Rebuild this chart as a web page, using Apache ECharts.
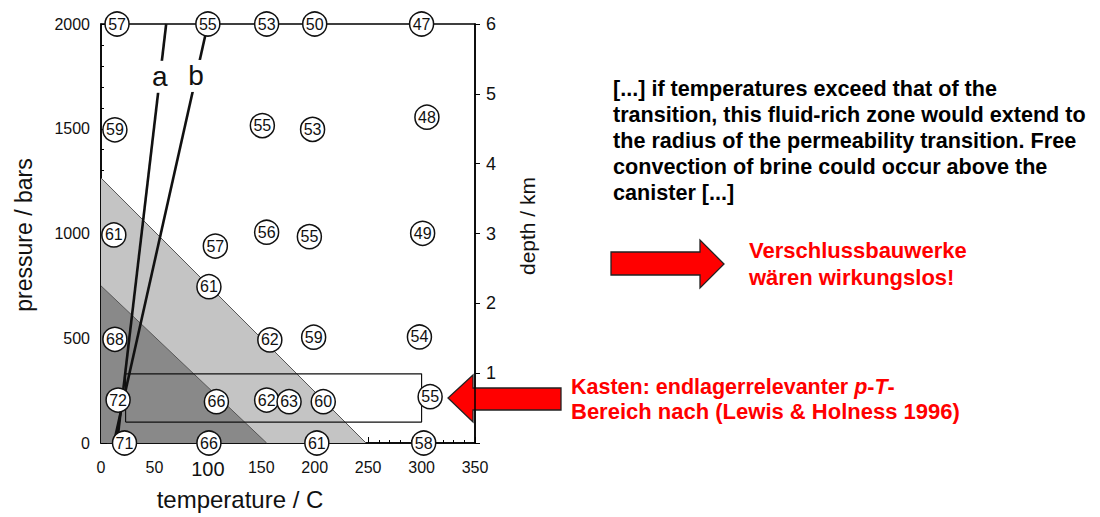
<!DOCTYPE html>
<html>
<head>
<meta charset="utf-8">
<style>
  html, body { margin: 0; padding: 0; background: #fff; }
  #chart { width: 1100px; height: 517px; }
</style>
<script src="https://cdn.jsdelivr.net/npm/echarts@6/dist/echarts.min.js"></script>
</head>
<body>
<div id="chart"></div>
<script>
// Halite–brine dihedral angles (degrees) measured at temperature / pressure points
const expTemp = [15, 100, 155, 200, 300, 13, 151, 198, 305, 12, 107, 155, 195, 301, 101, 13, 158, 199, 298, 16, 108, 155, 176, 208, 308, 22, 101, 202, 302];
const expPressure = [2000, 2000, 2000, 2000, 2000, 1495, 1515, 1497, 1555, 993, 940, 1006, 985, 1001, 746, 495, 492, 505, 506, 205, 197, 205, 197, 197, 221, 0, 0, 0, 0];
const dihedralAngle = [57, 55, 53, 50, 47, 59, 55, 53, 48, 61, 57, 56, 55, 49, 61, 68, 62, 59, 54, 72, 66, 62, 63, 60, 55, 71, 66, 61, 58];

// Shaded fields: boundary lines running from the pressure axis to the temperature axis
const outerField = [[0, 1265], [248, 0]];
const innerField = [[0, 750], [155, 0]];

// Geotherms a and b
const geothermA = [[15, 0], [61, 2000]];
const geothermB = [[12, 0], [100, 2000]];
const geothermLabels = [[55, 1748, 'a'], [89, 1752, 'b']];

// Repository-relevant p-T box
const boxTemp = [23, 300];
const boxPressure = [100, 330];

// Axes
const tempRange = [0, 350, 50];
const pressureRange = [0, 2000, 500];
const depthRange = [0, 6, 1];

const quoteLines = [
  '[...] if temperatures exceed that of the',
  'transition, this fluid-rich zone would extend to',
  'the radius of the permeability transition. Free',
  'convection of brine could occur above the',
  'canister [...]'
];

const FONT = '"Liberation Sans", Arial, Helvetica, sans-serif';

const points = expTemp.map((t, i) => [t, expPressure[i], dihedralAngle[i]]);
const boxData = [
  [boxTemp[0], boxPressure[0]], [boxTemp[1], boxPressure[0]],
  [boxTemp[1], boxPressure[1]], [boxTemp[0], boxPressure[1]],
  [boxTemp[0], boxPressure[0]]
];

const chart = echarts.init(document.getElementById('chart'), null, { renderer: 'svg' });

const axisLine = { show: true, lineStyle: { color: '#000', width: 1.5 } };

const option = {
  animation: false,
  backgroundColor: '#fff',
  grid: {
    left: 101, right: 625, top: 24, bottom: 74,
    show: true, borderColor: '#000', borderWidth: 1.5, backgroundColor: 'transparent'
  },
  xAxis: {
    type: 'value', min: tempRange[0], max: tempRange[1], interval: tempRange[2],
    axisLine,
    axisTick: { inside: true, length: 6, lineStyle: { color: '#000', width: 1 } },
    minorTick: { show: true, splitNumber: 5, length: 3, lineStyle: { color: '#000', width: 1 } },
    splitLine: { show: false },
    axisLabel: {
      margin: 16, fontSize: 16, color: '#111', fontFamily: FONT,
      formatter: v => v === 100 ? '{big|100}' : String(v),
      rich: { big: { fontSize: 20, fontFamily: FONT, color: '#111' } }
    }
  },
  yAxis: [
    {
      type: 'value', position: 'left', min: pressureRange[0], max: pressureRange[1], interval: pressureRange[2],
      axisLine,
      axisTick: { inside: true, length: 6, lineStyle: { color: '#000', width: 1 } },
      minorTick: { show: true, splitNumber: 5, length: 3, lineStyle: { color: '#000', width: 1 } },
      splitLine: { show: false },
      axisLabel: { margin: 11, fontSize: 16, color: '#111', fontFamily: FONT, formatter: v => String(v) }
    },
    {
      type: 'value', position: 'right', min: depthRange[0], max: depthRange[1], interval: depthRange[2],
      axisLine,
      axisTick: { inside: false, length: 5, lineStyle: { color: '#000', width: 1 } },
      splitLine: { show: false },
      axisLabel: {
        margin: 11, fontSize: 18, color: '#111', fontFamily: FONT,
        formatter: v => v === 0 ? '' : String(v)
      }
    }
  ],
  series: [
    {
      type: 'line', data: outerField, symbol: 'none', z: 1,
      lineStyle: { color: '#555', width: 1 },
      areaStyle: { color: '#c4c4c4', opacity: 1 }
    },
    {
      type: 'line', data: innerField, symbol: 'none', z: 1,
      lineStyle: { color: '#555', width: 1 },
      areaStyle: { color: '#898989', opacity: 1 }
    },
    {
      type: 'line', data: boxData, symbol: 'none', z: 2,
      lineStyle: { color: '#111', width: 1.2 }
    },
    {
      type: 'line', data: geothermA, symbol: 'none', z: 3,
      lineStyle: { color: '#111', width: 2.6 }
    },
    {
      type: 'line', data: geothermB, symbol: 'none', z: 3,
      lineStyle: { color: '#111', width: 2.6 }
    },
    {
      // white plate behind each geotherm letter, breaking the line
      type: 'scatter', data: geothermLabels, symbol: 'rect', symbolSize: [22, 32], z: 4, clip: false,
      itemStyle: { color: '#fff', borderWidth: 0, opacity: 1 },
      emphasis: { disabled: true },
      label: {
        show: true, position: 'inside', formatter: p => p.data[2],
        fontSize: 28, color: '#111', fontFamily: FONT
      }
    },
    {
      type: 'scatter', data: points, symbol: 'circle', symbolSize: 24, z: 5, clip: false,
      itemStyle: { color: '#fff', borderColor: '#111', borderWidth: 1.5, opacity: 1 },
      emphasis: { disabled: true },
      label: {
        show: true, position: 'inside', formatter: p => p.data[2],
        fontSize: 16, color: '#111', fontFamily: FONT
      }
    }
  ],
  graphic: [
    {
      type: 'text', x: 24, y: 235, rotation: Math.PI / 2,
      style: { text: 'pressure / bars', font: '23px ' + FONT, fill: '#111', align: 'center', verticalAlign: 'middle' }
    },
    {
      type: 'text', x: 527, y: 226, rotation: Math.PI / 2,
      style: { text: 'depth / km', font: '21px ' + FONT, fill: '#111', align: 'center', verticalAlign: 'middle' }
    },
    {
      type: 'text', x: 240, y: 499,
      style: { text: 'temperature / C', font: '24px ' + FONT, fill: '#111', align: 'center', verticalAlign: 'middle' }
    },
    ...quoteLines.map((line, i) => ({
      type: 'text', x: 613, y: 88 + i * 26,
      style: { text: line, font: 'bold 21.6px ' + FONT, fill: '#000', align: 'left', verticalAlign: 'middle' }
    })),
    {
      type: 'polygon',
      shape: { points: [[611, 252], [700, 252], [700, 240], [724, 264], [700, 288], [700, 275], [611, 275]] },
      style: { fill: '#ff0000', stroke: '#222', lineWidth: 1.3 }
    },
    {
      type: 'polygon',
      shape: { points: [[561, 388], [473, 388], [473, 375], [448, 398], [473, 422], [473, 410], [561, 410]] },
      style: { fill: '#ff0000', stroke: '#222', lineWidth: 1.3 }
    },
    {
      type: 'text', x: 749, y: 250,
      style: { text: 'Verschlussbauwerke', font: 'bold 22px ' + FONT, fill: '#ff0000', align: 'left', verticalAlign: 'middle' }
    },
    {
      type: 'text', x: 749, y: 277,
      style: { text: 'wären wirkungslos!', font: 'bold 22px ' + FONT, fill: '#ff0000', align: 'left', verticalAlign: 'middle' }
    },
    {
      type: 'text', x: 571, y: 387,
      style: {
        text: 'Kasten: endlagerrelevanter {i|p}-{i|T}-',
        font: 'bold 21.5px ' + FONT, fill: '#ff0000', align: 'left', verticalAlign: 'middle',
        rich: { i: { font: 'italic bold 21.5px ' + FONT, fill: '#ff0000' } }
      }
    },
    {
      type: 'text', x: 571, y: 411,
      style: { text: 'Bereich nach (Lewis & Holness 1996)', font: 'bold 22px ' + FONT, fill: '#ff0000', align: 'left', verticalAlign: 'middle' }
    }
  ]
};

chart.setOption(option);
</script>
</body>
</html>
